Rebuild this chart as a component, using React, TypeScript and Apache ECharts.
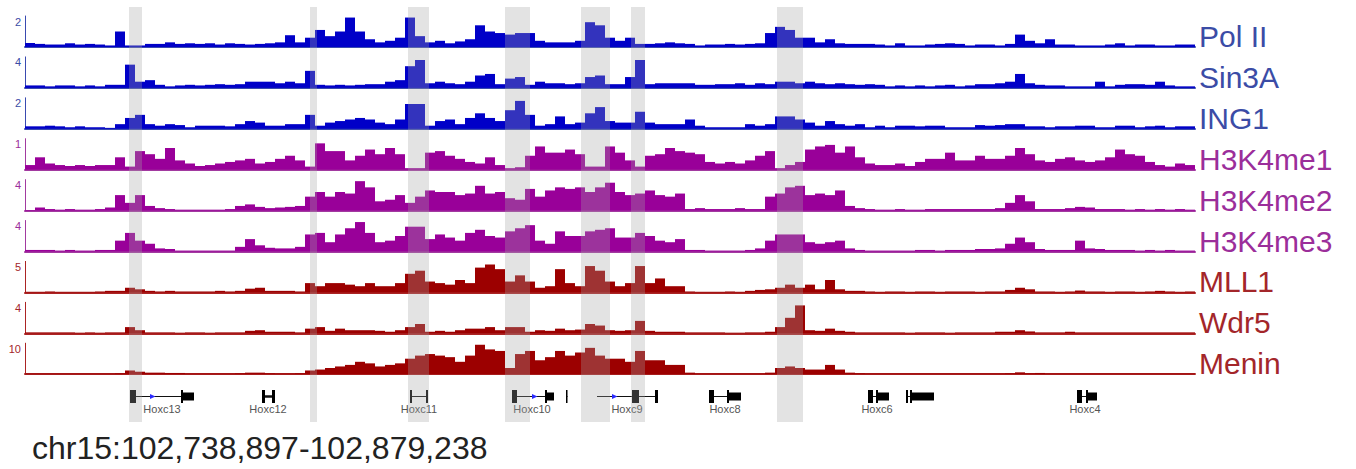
import React, { useEffect, useRef } from "react";
import * as echarts from "echarts";

// ~1.2 kb bins across chr15:102,738,897-102,879,238
const binLabels: string[] = Array.from({ length: 117 }, (_, i) => String(i));

const trackNames = ["Pol II", "Sin3A", "ING1", "H3K4me1", "H3K4me2", "H3K4me3", "MLL1", "Wdr5", "Menin"];
const trackScale = [2, 4, 2, 1, 4, 4, 5, 4, 10];

const polII = [
  0.26,0.2,0.16,0.16,0.24,0.16,0.2,0.16,0.1,1.0,
  0.1,0.1,0.2,0.2,0.3,0.2,0.24,0.2,0.24,0.16,
  0.24,0.2,0.16,0.2,0.24,0.3,0.76,0.3,0.6,1.1,
  0.7,1.0,1.9,1.0,0.5,0.3,0.4,0.6,1.9,0.7,
  0.3,0.4,0.24,0.36,0.5,1.4,1.0,0.9,0.8,0.9,
  0.9,0.4,0.3,0.3,0.3,0.4,1.6,1.4,0.6,0.4,
  0.6,0.2,0.2,0.24,0.3,0.24,0.2,0.1,0.16,0.16,
  0.2,0.16,0.2,0.24,0.9,1.3,1.1,0.6,0.6,0.3,
  0.5,0.24,0.2,0.2,0.2,0.16,0.1,0.24,0.1,0.1,
  0.16,0.2,0.24,0.2,0.1,0.16,0.16,0.1,0.2,0.8,
  0.4,0.24,0.5,0.16,0.16,0.1,0.1,0.1,0.16,0.24,
  0.1,0.16,0.16,0.1,0.1,0.16,0.16,
];
const sin3a = [
  0.32,0.32,0.2,0.32,0.32,0.2,0.32,0.2,0.4,0.4,
  3.0,0.8,1.0,0.4,0.2,0.32,0.4,0.32,0.4,0.48,
  0.4,0.48,0.8,0.8,0.8,0.6,0.8,0.6,2.2,0.4,
  0.32,0.4,0.32,0.4,0.48,0.48,0.8,1.0,2.8,3.6,
  0.6,0.8,0.6,0.48,0.8,1.6,1.8,0.48,1.2,1.4,
  0.4,0.8,0.6,0.6,0.48,0.6,1.4,1.6,0.48,0.48,
  1.4,3.6,0.48,0.6,0.6,0.6,0.6,0.4,0.4,0.48,
  0.48,0.6,0.4,0.6,0.48,0.8,0.8,0.6,0.8,0.6,
  0.48,0.6,0.48,0.4,0.48,0.4,0.2,0.32,0.2,0.32,
  0.2,0.32,0.4,0.2,0.32,0.48,0.48,0.6,0.8,1.8,
  0.6,0.4,0.32,0.32,0.2,0.2,0.2,0.8,0.2,0.4,
  0.48,0.48,0.4,0.8,0.32,0.2,0.2,
];
const ing1 = [
  0.16,0.16,0.2,0.16,0.1,0.16,0.1,0.1,0.06,0.3,
  0.7,0.9,0.3,0.2,0.3,0.24,0.1,0.2,0.2,0.2,
  0.16,0.3,0.5,0.4,0.2,0.2,0.3,0.3,0.9,0.2,
  0.4,0.5,0.6,0.7,0.6,0.4,0.3,0.6,1.6,1.6,
  0.2,0.5,0.6,0.3,0.7,1.0,0.7,0.5,1.2,1.8,
  0.9,0.2,0.3,0.8,0.3,0.4,1.0,1.4,0.5,0.4,
  0.4,1.1,0.4,0.3,0.3,0.3,0.6,0.2,0.1,0.1,
  0.1,0.1,0.3,0.2,0.3,0.8,0.8,0.6,0.4,0.2,
  0.5,0.3,0.2,0.3,0.1,0.2,0.1,0.2,0.2,0.16,
  0.2,0.2,0.1,0.1,0.1,0.24,0.2,0.24,0.3,0.3,
  0.16,0.16,0.1,0.16,0.16,0.2,0.2,0.1,0.1,0.2,
  0.2,0.1,0.16,0.2,0.1,0.16,0.16,
];
const h3k4me1 = [
  0.15,0.4,0.2,0.15,0.12,0.15,0.12,0.15,0.15,0.4,
  0.1,0.6,0.5,0.35,0.7,0.3,0.2,0.12,0.15,0.2,
  0.25,0.3,0.35,0.2,0.25,0.35,0.45,0.3,0.1,0.85,
  0.6,0.6,0.3,0.45,0.65,0.5,0.7,0.5,0.05,0.05,
  0.55,0.6,0.45,0.35,0.25,0.2,0.4,0.15,0.05,0.08,
  0.45,0.75,0.55,0.55,0.65,0.5,0.1,0.1,0.75,0.55,
  0.3,0.1,0.45,0.5,0.7,0.6,0.55,0.5,0.25,0.2,
  0.25,0.2,0.3,0.45,0.6,0.05,0.15,0.25,0.65,0.75,
  0.8,0.55,0.75,0.4,0.2,0.15,0.15,0.2,0.12,0.25,
  0.35,0.35,0.55,0.3,0.3,0.45,0.35,0.35,0.45,0.7,
  0.5,0.3,0.25,0.35,0.4,0.3,0.25,0.3,0.4,0.65,
  0.5,0.45,0.25,0.15,0.1,0.2,0.15,
];
const h3k4me2 = [
  0.08,0.4,0.2,0.12,0.2,0.12,0.12,0.2,0.4,2.0,
  1.0,2.0,0.6,0.32,0.2,0.12,0.12,0.12,0.12,0.12,
  0.2,0.6,0.8,0.48,0.32,0.4,0.48,0.6,1.8,2.4,
  1.8,2.4,2.2,3.8,3.0,1.2,1.4,2.0,1.0,1.8,
  2.6,2.4,2.4,2.0,2.2,3.2,2.2,2.4,1.6,1.4,
  2.8,1.8,2.6,3.0,2.8,3.0,2.4,3.0,3.6,2.4,
  2.0,2.2,2.6,2.0,1.8,2.2,0.2,0.32,0.2,0.2,
  0.2,0.32,0.2,0.2,1.8,2.2,3.0,3.2,2.0,2.2,
  2.0,2.6,0.6,0.32,0.2,0.12,0.12,0.2,0.12,0.12,
  0.2,0.2,0.2,0.2,0.2,0.2,0.2,0.32,1.0,2.0,
  1.2,0.2,0.2,0.2,0.32,0.48,0.4,0.2,0.2,0.2,
  0.12,0.2,0.12,0.2,0.12,0.2,0.12,
];
const h3k4me3 = [
  0.2,0.2,0.2,0.12,0.2,0.12,0.12,0.2,0.2,1.4,
  2.4,1.4,1.0,0.4,0.32,0.12,0.12,0.12,0.12,0.12,
  0.12,0.6,1.6,0.8,0.48,0.4,0.4,0.6,2.2,2.4,
  1.2,2.2,3.0,3.8,2.4,1.2,1.4,2.0,3.2,3.2,
  1.6,2.2,1.8,1.4,2.4,2.8,2.0,1.8,2.6,3.0,
  3.4,1.4,1.0,2.6,2.0,2.0,2.6,2.8,3.0,1.8,
  1.8,2.4,2.0,1.4,1.2,1.6,0.2,0.2,0.12,0.12,
  0.12,0.12,0.2,0.4,1.4,2.2,2.2,2.2,1.2,1.0,
  1.2,1.4,0.4,0.2,0.12,0.12,0.12,0.12,0.12,0.2,
  0.2,0.12,0.2,0.2,0.2,0.32,0.32,0.4,1.0,1.8,
  1.2,0.32,0.2,0.2,0.2,1.4,0.4,0.32,0.2,0.2,
  0.2,0.12,0.2,0.12,0.2,0.12,0.12,
];
const mll1 = [
  0.1,0.1,0.15,0.1,0.1,0.1,0.1,0.15,0.25,0.25,
  0.75,0.5,0.25,0.15,0.25,0.15,0.15,0.15,0.15,0.25,
  0.15,0.25,0.6,0.75,0.25,0.25,0.25,0.15,1.5,1.0,
  1.5,1.5,1.25,1.0,1.5,1.0,1.0,1.5,3.0,3.5,
  1.75,1.5,1.25,2.0,1.5,4.0,4.5,3.75,1.75,2.75,
  1.75,0.75,1.0,3.75,1.5,1.0,4.25,3.5,1.75,1.0,
  1.5,4.25,1.5,2.25,1.0,1.0,0.15,0.1,0.1,0.1,
  0.15,0.1,0.25,0.4,0.5,0.75,1.25,0.75,1.25,0.5,
  2.0,0.5,0.25,0.25,0.15,0.1,0.15,0.15,0.1,0.15,
  0.15,0.1,0.15,0.15,0.15,0.1,0.15,0.15,0.4,0.75,
  0.5,0.15,0.15,0.1,0.15,0.3,0.15,0.15,0.1,0.15,
  0.15,0.1,0.15,0.25,0.15,0.1,0.15,
];
const wdr5 = [
  0.12,0.12,0.12,0.12,0.12,0.08,0.12,0.08,0.12,0.12,
  0.8,0.4,0.12,0.12,0.12,0.08,0.12,0.12,0.08,0.12,
  0.12,0.12,0.32,0.4,0.2,0.2,0.2,0.12,0.6,0.8,
  0.32,0.6,0.4,0.4,0.4,0.32,0.2,0.4,0.8,1.2,
  0.2,0.32,0.2,0.4,0.6,0.6,0.8,0.4,0.8,0.8,
  0.2,0.4,0.32,0.6,0.4,0.48,1.2,1.0,0.4,0.32,
  0.4,1.6,0.32,0.2,0.2,0.2,0.12,0.12,0.12,0.12,
  0.08,0.08,0.12,0.12,0.2,0.8,2.0,3.6,0.4,0.32,
  0.6,0.32,0.2,0.12,0.12,0.12,0.12,0.12,0.08,0.12,
  0.12,0.12,0.08,0.12,0.12,0.12,0.12,0.2,0.2,0.4,
  0.24,0.12,0.12,0.12,0.2,0.12,0.12,0.12,0.12,0.12,
  0.12,0.12,0.12,0.12,0.12,0.12,0.12,
];
const menin = [
  0.2,0.2,0.2,0.2,0.2,0.2,0.2,0.2,0.2,0.3,
  1.2,0.8,0.5,0.5,0.4,0.4,0.2,0.2,0.2,0.2,
  0.2,0.3,0.5,0.5,0.3,0.2,0.2,0.3,1.2,1.5,
  2.0,2.5,3.0,4.0,3.5,2.5,3.0,3.5,5.0,6.0,
  6.5,6.0,5.5,4.0,6.0,9.5,8.0,7.5,2.0,6.5,
  7.5,4.5,5.5,7.5,6.0,7.0,8.5,6.0,5.0,5.0,
  4.0,7.5,4.5,4.5,3.0,3.0,0.5,0.2,0.2,0.2,
  0.2,0.2,0.2,0.2,0.5,2.0,2.5,2.0,1.5,1.5,
  3.0,1.5,0.5,0.3,0.2,0.2,0.2,0.2,0.2,0.2,
  0.2,0.2,0.2,0.2,0.2,0.2,0.2,0.2,0.3,0.6,
  0.3,0.4,0.2,0.2,0.2,0.2,0.2,0.2,0.2,0.2,
  0.2,0.2,0.2,0.2,0.2,0.2,0.2,
];
const trackData = [polII, sin3a, ing1, h3k4me1, h3k4me2, h3k4me3, mll1, wdr5, menin];
const trackGroup = ["blue", "blue", "blue", "purple", "purple", "purple", "red", "red", "red"];

// highlighted regions, in bin units
const highlightRegions: [number, number][] = [
  [10.4, 11.7], [28.5, 29.2], [38.3, 40.4], [48.0, 50.5], [55.6, 58.5], [60.6, 62.0], [75.2, 77.8],
];

// gene models, in bin units; exon kind T = tall, U = short
const genes = [
  { name: "Hoxc13", start: 10.5, end: 16.9, exons: [[10.5, 11.1, "T"], [15.6, 15.8, "T"], [15.8, 16.9, "U"]], arrow: 12.8, label: 13.7, lw: 1 },
  { name: "Hoxc12", start: 23.7, end: 25.0, exons: [[23.7, 24.0, "T"], [24.7, 25.0, "T"]], arrow: null, label: 24.3, lw: 2.5 },
  { name: "Hoxc11", start: 38.5, end: 40.3, exons: [[38.5, 38.7, "T"], [40.1, 40.3, "T"]], arrow: null, label: 39.4, lw: 1 },
  { name: "Hoxc10", start: 48.7, end: 52.9, exons: [[48.7, 49.2, "T"], [52.0, 52.2, "T"], [52.2, 52.9, "U"]], arrow: 51.0, label: 50.7, lw: 1 },
  { name: "", start: 54.1, end: 54.25, exons: [[54.1, 54.25, "T"]], arrow: null, label: 54.2, lw: 1 },
  { name: "Hoxc9", start: 57.2, end: 63.3, exons: [[60.7, 61.4, "T"], [63.0, 63.3, "T"]], arrow: 59.0, label: 60.2, lw: 1 },
  { name: "Hoxc8", start: 68.4, end: 71.6, exons: [[68.4, 68.9, "T"], [70.2, 70.4, "T"], [70.4, 71.6, "U"]], arrow: null, label: 70.0, lw: 1 },
  { name: "Hoxc6", start: 84.3, end: 86.4, exons: [[84.3, 84.8, "T"], [85.1, 85.3, "T"], [85.3, 86.4, "U"]], arrow: null, label: 85.2, lw: 1 },
  { name: "", start: 88.1, end: 90.9, exons: [[88.1, 88.3, "T"], [88.5, 88.7, "T"], [88.7, 90.9, "U"]], arrow: null, label: 89.5, lw: 1 },
  { name: "Hoxc4", start: 105.2, end: 107.2, exons: [[105.2, 105.7, "T"], [106.1, 106.3, "T"], [106.3, 107.2, "U"]], arrow: null, label: 106.0, lw: 1 },
];

const locusText = "chr15:102,738,897-102,879,238";

const PALETTE: Record<string, { fill: string; text: string; axis: string }> = {
  blue: { fill: "#0000c8", text: "#3b4ca6", axis: "#3a4ab0" },
  purple: { fill: "#990099", text: "#9b2e9a", axis: "#a23aa0" },
  red: { fill: "#9c0000", text: "#a3262a", axis: "#ab2424" },
};

const FONT = "'Liberation Sans', Arial, Helvetica, sans-serif";
const LEFT = 25;
const PLOT_W = 1170;
const TOP0 = 16;
const STEP = 40.9;
const TRACK_H = 31;

export default function App() {
  const ref = useRef<HTMLDivElement>(null);

  useEffect(() => {
    if (!ref.current) return;
    const chart = echarts.init(ref.current, undefined, { renderer: "svg" });

    const grid: any[] = [];
    const xAxis: any[] = [];
    const yAxis: any[] = [];
    const series: any[] = [];
    const graphic: any[] = [];

    trackNames.forEach((name, i) => {
      const pal = PALETTE[trackGroup[i]];
      const top = TOP0 + STEP * i;
      grid.push({ left: LEFT, width: PLOT_W, top, height: TRACK_H });
      xAxis.push({
        type: "category",
        gridIndex: i,
        data: binLabels,
        boundaryGap: true,
        axisLine: { show: true, lineStyle: { color: pal.axis, width: 2 } },
        axisTick: { show: false },
        axisLabel: { show: false },
        splitLine: { show: false },
      });
      yAxis.push({
        type: "value",
        gridIndex: i,
        min: 0,
        max: trackScale[i],
        interval: trackScale[i],
        axisLine: { show: true, lineStyle: { color: pal.axis, width: 1 } },
        axisTick: { show: false },
        splitLine: { show: false },
        axisLabel: {
          show: true,
          showMinLabel: false,
          margin: 4,
          fontSize: 11,
          color: pal.text,
          fontFamily: FONT,
          verticalAlign: "top",
        },
      });
      series.push({
        type: "bar",
        name,
        xAxisIndex: i,
        yAxisIndex: i,
        data: trackData[i],
        barCategoryGap: "0%",
        barGap: "0%",
        itemStyle: { color: pal.fill },
        silent: true,
        z: 2,
      });
      graphic.push({
        type: "text",
        left: 1199,
        top: top + TRACK_H - 10.5 - 15,
        style: {
          text: name,
          fontSize: 30,
          fontFamily: FONT,
          fill: pal.text,
        },
      });
    });

    // gene track grid
    const geneIdx = trackNames.length;
    grid.push({ left: LEFT, width: PLOT_W, top: 384, height: 25 });
    xAxis.push({ type: "value", gridIndex: geneIdx, min: 0, max: 117, show: false });
    yAxis.push({ type: "value", gridIndex: geneIdx, min: 0, max: 1, show: false });
    series.push({
      type: "custom",
      xAxisIndex: geneIdx,
      yAxisIndex: geneIdx,
      silent: true,
      z: 3,
      clip: false,
      data: genes.map((g) => [g.start, g.end]),
      renderItem: (params: any, api: any) => {
        const g = genes[params.dataIndex];
        const yc = api.coord([0, 0.5])[1];
        const x0 = api.coord([g.start, 0.5])[0];
        const x1 = api.coord([g.end, 0.5])[0];
        const children: any[] = [
          { type: "line", shape: { x1: x0, y1: yc, x2: x1, y2: yc }, style: { stroke: "#111", lineWidth: g.lw } },
        ];
        (g.exons as any[]).forEach(([s, e, kind]) => {
          const xs = api.coord([s, 0.5])[0];
          const xe = api.coord([e, 0.5])[0];
          const h = kind === "T" ? 13 : 8;
          children.push({
            type: "rect",
            shape: { x: xs, y: yc - h / 2, width: Math.max(1.5, xe - xs), height: h },
            style: { fill: "#000" },
          });
        });
        if (g.arrow != null) {
          const xa = api.coord([g.arrow, 0.5])[0];
          children.push({
            type: "polygon",
            shape: { points: [[xa - 3, yc - 2.5], [xa + 2.5, yc], [xa - 3, yc + 2.5]] },
            style: { fill: "#2a2aff" },
          });
        }
        if (g.name) {
          const xl = api.coord([g.label, 0.5])[0];
          children.push({
            type: "text",
            style: {
              text: g.name,
              x: xl,
              y: yc + 12,
              align: "center",
              verticalAlign: "middle",
              fontSize: 11,
              fontFamily: FONT,
              fill: "#555",
            },
          });
        }
        return { type: "group", children };
      },
    });

    // highlight overlay grid
    const hlIdx = geneIdx + 1;
    grid.push({ left: LEFT, width: PLOT_W, top: 7, height: 415 });
    xAxis.push({ type: "value", gridIndex: hlIdx, min: 0, max: 117, show: false });
    yAxis.push({ type: "value", gridIndex: hlIdx, min: 0, max: 1, show: false });
    series.push({
      type: "custom",
      xAxisIndex: hlIdx,
      yAxisIndex: hlIdx,
      silent: true,
      z: 10,
      data: highlightRegions,
      renderItem: (params: any, api: any) => {
        const p0 = api.coord([api.value(0), 1]);
        const p1 = api.coord([api.value(1), 0]);
        return {
          type: "rect",
          shape: { x: p0[0], y: p0[1], width: p1[0] - p0[0], height: p1[1] - p0[1] },
          style: { fill: "rgba(165,165,165,0.31)" },
        };
      },
    });

    graphic.push({
      type: "text",
      left: 32,
      top: 432,
      style: { text: locusText, fontSize: 32, fontFamily: FONT, fill: "#222" },
    });

    chart.setOption({
      animation: false,
      backgroundColor: "#fff",
      grid,
      xAxis,
      yAxis,
      series,
      graphic,
    });

    return () => chart.dispose();
  }, []);

  return (
    <div
      ref={ref}
      style={{ position: "absolute", left: 0, top: 0, width: 1356, height: 469 }}
    />
  );
}
